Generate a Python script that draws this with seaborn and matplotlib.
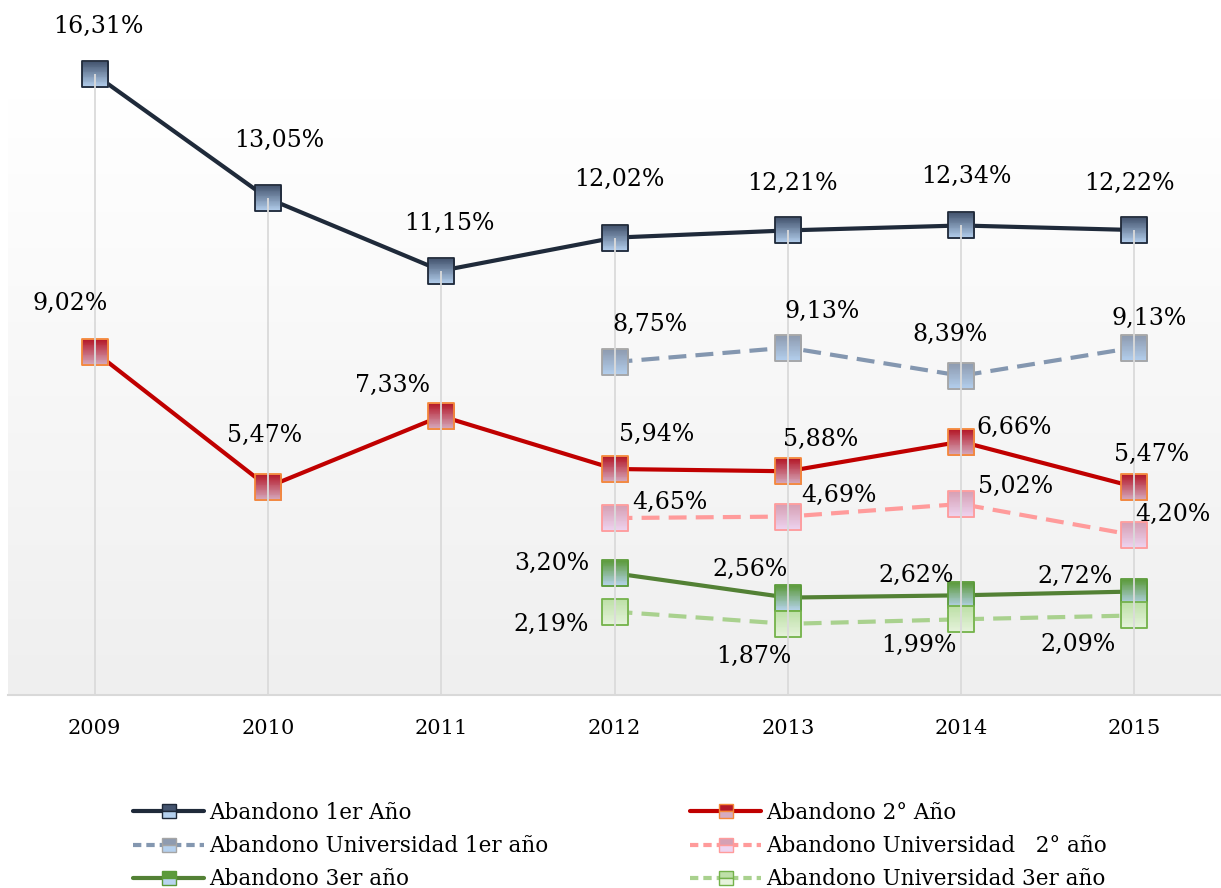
import numpy as np
import pandas as pd
import matplotlib
matplotlib.use('Agg')
import matplotlib.pyplot as plt
import seaborn as sns
from matplotlib.path import Path
from matplotlib.lines import Line2D
from matplotlib.colors import to_rgb, LinearSegmentedColormap

sns.set_theme(style='white')
plt.rcParams['font.family'] = ['DejaVu Serif']

# data
years = ['2009', '2010', '2011', '2012', '2013', '2014', '2015']
series = ['Abandono 1er Año', 'Abandono 2° Año',
          'Abandono Universidad 1er año', 'Abandono Universidad   2° año',
          'Abandono 3er año', 'Abandono Universidad 3er año']
aband_1 = [16.31, 13.05, 11.15, 12.02, 12.21, 12.34, 12.22]
aband_2 = [9.02, 5.47, 7.33, 5.94, 5.88, 6.66, 5.47]
univ_1 = [None, None, None, 8.75, 9.13, 8.39, 9.13]
univ_2 = [None, None, None, 4.65, 4.69, 5.02, 4.20]
aband_3 = [None, None, None, 3.20, 2.56, 2.62, 2.72]
univ_3 = [None, None, None, 2.19, 1.87, 1.99, 2.09]
values = [aband_1, aband_2, univ_1, univ_2, aband_3, univ_3]

# styles
line_col = ['#1F2A3A', '#C00000', '#8497B0', '#FF9B9B', '#538135', '#A9D18E']
top_col = ['#44546F', '#B41828', '#8E9BB0', '#D6A0B4', '#5C9A3C', '#BEE0A8']
bot_col = ['#B4D0EE', '#D6ACC0', '#B4D0EE', '#EED4F0', '#B8D4F0', '#E6F3DC']
edge_col = ['#1E2838', '#F5883A', '#A5A5A5', '#FF9B9B', '#5A9A38', '#74B24A']
dashed = [False, False, True, True, False, True]

# label offsets in pixels (dx, dy image-down)
offsets = [
    [(4, -51), (11, -61), (8, -50), (5, -61), (5, -50), (5, -52), (-5, -50)],
    [(-25, -51), (-3, -54), (-49, -34), (42, -38), (33, -35), (53, -17), (17, -35)],
    [None, None, None, (35, -41), (34, -39), (-11, -44), (15, -32)],
    [None, None, None, (55, -19), (51, -24), (54, -21), (39, -24)],
    [None, None, None, (-63, -13), (-38, -31), (-45, -23), (-59, -18)],
    [None, None, None, (-63, 10), (-34, 30), (-42, 23), (-56, 26)],
]

rows = []
for name, vals in zip(series, values):
    for i, v in enumerate(vals):
        if v is not None:
            rows.append((name, i, v))
df = pd.DataFrame(rows, columns=['serie', 'pos', 'valor'])

fig = plt.figure(figsize=(12.21, 8.88), dpi=100)
ax = fig.add_axes([8 / 1221, 193 / 888, 1213 / 1221, 597 / 888])
ytop = 15.69

# background gradient
bg = LinearSegmentedColormap.from_list('bg', ['#FFFFFF', '#EFEFEF'])
ax.imshow(np.linspace(0, 1, 200).reshape(-1, 1), extent=(-0.5, 6.5, 0, ytop),
          aspect='auto', cmap=bg, origin='upper', zorder=0)

dash_map = {s: ((4.3, 2.2) if d else '') for s, d in zip(series, dashed)}
sns.lineplot(data=df, x='pos', y='valor', hue='serie', style='serie',
             hue_order=series, style_order=series,
             palette=dict(zip(series, line_col)), dashes=dash_map,
             linewidth=3, legend=False, sort=False, errorbar=None, ax=ax)
for ln in ax.lines:
    ln.set_clip_on(False)
    ln.set_zorder(2)

# gradient square markers: each layer covers from its level down to the bottom
codes = [Path.MOVETO, Path.LINETO, Path.LINETO, Path.LINETO, Path.CLOSEPOLY]
square = Path([(-1, 1), (1, 1), (1, -1), (-1, -1), (-1, 1)], codes)
N = 16
layers = []
for k in range(N):
    t = 1 - 2 * k / N
    layers.append(Path([(-1, t), (1, t), (1, -1), (-1, -1), (-1, t)], codes))

ms = 19
for j, (name, vals) in enumerate(zip(series, values)):
    xs = [i for i, v in enumerate(vals) if v is not None]
    ys = [v for v in vals if v is not None]
    c0 = np.array(to_rgb(top_col[j]))
    c1 = np.array(to_rgb(bot_col[j]))
    for k in range(N):
        c = c0 + (c1 - c0) * k / (N - 1)
        ax.plot(xs, ys, ls='none', marker=layers[k], ms=ms, mfc=c, mec='none',
                clip_on=False, zorder=3 + j * 0.1)
    ax.plot(xs, ys, ls='none', marker=square, ms=ms, mfc='none', mec=edge_col[j],
            mew=1.3, clip_on=False, zorder=3.05 + j * 0.1)
    for i, v in zip(xs, ys):
        dx, dy = offsets[j][i]
        ax.annotate(f'{v:.2f}'.replace('.', ',') + '%', (i, v),
                    xytext=(dx, -dy - 3), textcoords='offset pixels',
                    ha='center', va='center', fontsize=17, color='black',
                    annotation_clip=False, zorder=12)

# drop lines
tops = [max(v[i] for v in values if v[i] is not None) for i in range(len(years))]
ax.vlines(range(len(years)), 0, tops, colors='#DADADA', lw=1.3, zorder=10,
          clip_on=False)

ax.set_xlim(-0.5, 6.5)
ax.set_ylim(0, ytop)
ax.set_xticks(range(len(years)))
ax.set_xticklabels(years, fontsize=15, color='black')
ax.tick_params(axis='x', length=0, pad=17)
ax.set_yticks([])
ax.set_xlabel('')
ax.set_ylabel('')
for s in ['top', 'right', 'left']:
    ax.spines[s].set_visible(False)
ax.spines['bottom'].set_color('#D9D9D9')
ax.spines['bottom'].set_linewidth(1.5)

# legend
handles = []
for j in range(len(series)):
    handles.append(Line2D([], [], color=line_col[j], lw=3,
                          dashes=(2, 1.2) if dashed[j] else (None, None),
                          marker='s', ms=10, fillstyle='top',
                          mfc=top_col[j], markerfacecoloralt=bot_col[j],
                          mec=edge_col[j], mew=1))
leg_kw = dict(loc='upper left', frameon=False, fontsize=15.5, handlelength=3.3,
              handletextpad=0.25, labelspacing=0.52, borderpad=0, borderaxespad=0,
              labelcolor='black')
fig.legend([handles[i] for i in (0, 2, 4)], [series[i] for i in (0, 2, 4)],
           bbox_to_anchor=(133 / 1221, 1 - 802 / 888), **leg_kw)
fig.legend([handles[i] for i in (1, 3, 5)], [series[i] for i in (1, 3, 5)],
           bbox_to_anchor=(690 / 1221, 1 - 802 / 888), **leg_kw)

fig.savefig('out.png', dpi=100)
